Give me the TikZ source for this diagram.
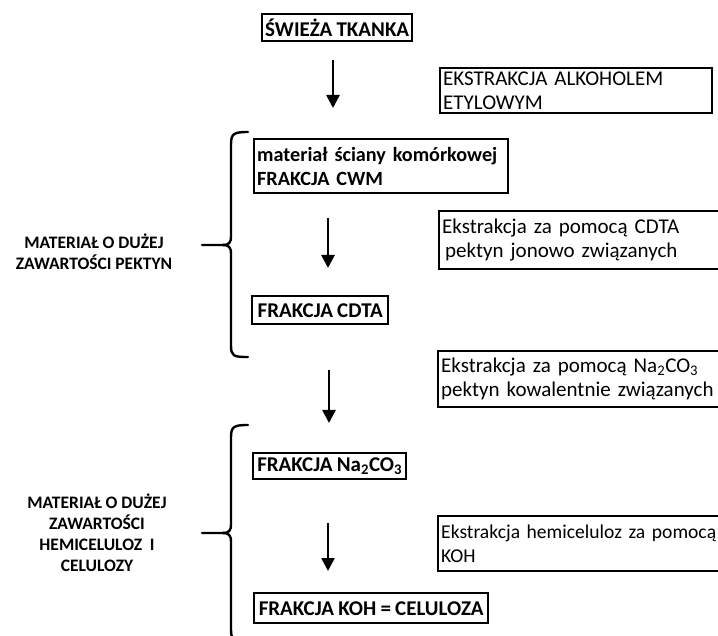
\documentclass[tikz,border=0pt]{standalone}
\usepackage{fontspec}
\setmainfont{Carlito}
\usetikzlibrary{arrows.meta}
\newcommand{\bigtxt}{\fontsize{21}{24}\selectfont\spaceskip=0.2em\relax}
\newcommand{\cwmtxt}{\fontsize{20.2}{24}\selectfont\bfseries\spaceskip=0.19em\relax}
\newcommand{\kohtxt}{\fontsize{19.6}{24}\selectfont\spaceskip=0.17em\relax}
\newcommand{\lbltxt}{\fontsize{17.5}{21}\selectfont\bfseries\spaceskip=0.22em\relax}
\tikzset{
  boxb/.style={draw, line width=2.4pt, inner xsep=3pt, inner ysep=2pt, font=\bigtxt\bfseries, align=left, anchor=north west},
  boxr/.style={draw, line width=2.4pt, inner xsep=3pt, inner ysep=2pt, font=\bigtxt, align=left, anchor=north west},
  lbl/.style={font=\lbltxt, align=center},
  flow/.style={line width=2.6pt, -{Triangle[width=13pt,length=13pt]}},
  brace/.style={line width=2.4pt, line cap=round}
}
\begin{document}
\begin{tikzpicture}[x=1pt,y=-1pt]
\useasboundingbox (0,0) rectangle (718,636);
\clip (0,0) rectangle (718,636);
% boxes
\node[boxb, minimum width=150pt, minimum height=27pt, align=center] (fresh) at (261,13) {ŚWIEŻA TKANKA};
\node[boxr, text width=266pt, minimum height=45pt] (alk) at (439,67) {EKSTRAKCJA ALKOHOLEM\\ETYLOWYM};
\node[boxb, text width=248pt, minimum height=54pt, font=\cwmtxt] (cwm) at (253,138) {materiał ściany komórkowej\\FRAKCJA CWM};
\node[boxb, minimum width=136pt, minimum height=28pt] (cdta) at (251,295) {FRAKCJA CDTA};
\node[boxr, text width=320pt, minimum height=58pt] (excdta) at (438,210) {Ekstrakcja za pomocą CDTA\\\hspace*{3pt}pektyn jonowo związanych};
\node[boxr, text width=320pt, minimum height=56pt] (exna) at (437,350) {Ekstrakcja za pomocą Na\textsubscript{2}CO\textsubscript{3}\\pektyn kowalentnie związanych};
\node[boxb, minimum width=153pt, minimum height=26pt] (na) at (252,452) {FRAKCJA Na\textsubscript{2}CO\textsubscript{3}};
\node[boxr, text width=320pt, minimum height=55pt, font=\kohtxt] (exkoh) at (437,515) {Ekstrakcja hemiceluloz za pomocą\\KOH};
\node[boxb, minimum width=234pt, minimum height=30pt] (koh) at (253,592) {FRAKCJA KOH = CELULOZA};
% side labels
\node[lbl] (pek) at (94,252) {MATERIAŁ O DUŻEJ\\ZAWARTOŚCI PEKTYN};
\node[lbl] (hem) at (97,533) {MATERIAŁ O DUŻEJ\\ZAWARTOŚCI\\HEMICELULOZ\ \ I\\CELULOZY};
% arrow end points
\coordinate (a1s) at (333,60);  \coordinate (a1e) at (333,108);
\coordinate (a2s) at (328,218); \coordinate (a2e) at (328,268);
\coordinate (a3s) at (329,370); \coordinate (a3e) at (329,423);
\coordinate (a4s) at (328,523); \coordinate (a4e) at (328,571);
\draw[flow] (a1s) -- (a1e);
\draw[flow] (a2s) -- (a2e);
\draw[flow] (a3s) -- (a3e);
\draw[flow] (a4s) -- (a4e);
% braces
\coordinate (b1t) at (248,132); \coordinate (b1m) at (202,245); \coordinate (b1b) at (248,357);
\coordinate (b1k) at (222,245);
\draw[brace] (b1t) .. controls (233,132) and (231,134) .. (231,145) -- (231,236)
  .. controls (231,243) and (229,245) .. (b1k) -- (b1m);
\draw[brace] (b1k) .. controls (229,245) and (231,247) .. (231,254) -- (231,345)
  .. controls (231,356) and (233,357) .. (b1b);
\coordinate (b2t) at (248,425); \coordinate (b2m) at (202,533); \coordinate (b2b) at (248,641);
\coordinate (b2k) at (222,533);
\draw[brace] (b2t) .. controls (233,425) and (231,427) .. (231,438) -- (231,524)
  .. controls (231,531) and (229,533) .. (b2k) -- (b2m);
\draw[brace] (b2k) .. controls (229,533) and (231,535) .. (231,542) -- (231,629)
  .. controls (231,640) and (233,641) .. (b2b);
\end{tikzpicture}
\end{document}
